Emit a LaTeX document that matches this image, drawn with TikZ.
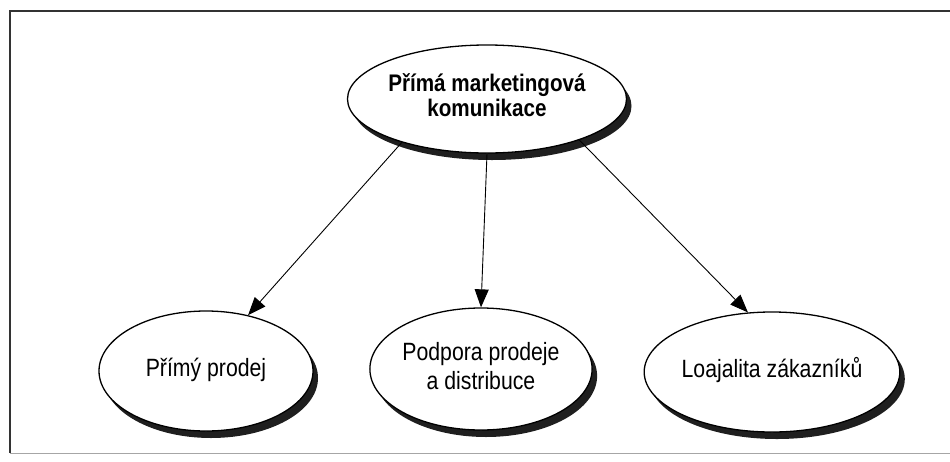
\documentclass[tikz,border=0pt]{standalone}
\usepackage{fontspec}
\setmainfont{Liberation Sans}
\usetikzlibrary{shapes.geometric,shadows,arrows.meta}

% condensed label text, one or more centred lines
\newcommand{\condensed}[2][0.85]{\scalebox{#1}[1]{\begin{tabular}{@{}c@{}}#2\end{tabular}}}

\tikzset{
  bubble/.style={ellipse, draw=black, line width=1.3pt, fill=white, inner sep=0pt,
    font=\fontsize{25}{29}\selectfont,
    copy shadow={shadow xshift=5pt, shadow yshift=-7pt, fill=black!88, draw=none}},
  link/.style={draw=black, line width=0.9pt, -{Triangle[length=18pt,width=14pt]}},
  frame/.style={draw=black!80, line width=1.4pt}
}

\begin{document}
\begin{tikzpicture}[x=1pt,y=-1pt]
  \useasboundingbox (0,0) rectangle (950,461);

  % open frame around the chart
  \draw[frame] (960,11) -- (10,11) -- (10,453);
  \draw[draw=black!35, line width=0.8pt] (10,453) -- (960,453);

  % top concept
  \node[bubble, minimum width=224pt, minimum height=108pt,
        font=\bfseries\fontsize{24}{25}\selectfont] (top) at (487,99)
        {\condensed[0.86]{Přímá marketingová\\komunikace}};

  % three branches
  \node[bubble, minimum width=214pt, minimum height=120pt] (left) at (206,371)
        {\condensed{Přímý prodej}};
  \node[bubble, minimum width=217pt, minimum height=122pt] (mid) at (481,369)
        {\condensed{Podpora prodeje\\a distribuce}};
  \node[bubble, minimum width=230pt, minimum height=120pt] (right) at (772,372)
        {\condensed{Loajalita zákazníků}};

  % connectors
  \draw[link] (top.207) -- (left.53);
  \draw[link] (top.270) -- (mid.90);
  \draw[link] (top.336) -- (right.112);
\end{tikzpicture}
\end{document}
